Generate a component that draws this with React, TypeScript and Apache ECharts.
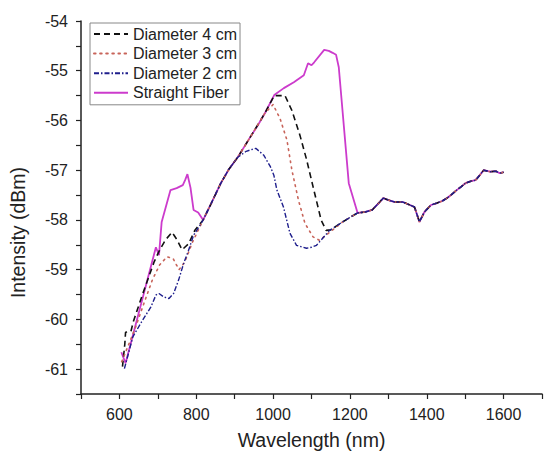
import React, { useEffect, useRef } from "react";
import * as echarts from "echarts";

// Shared segments (all curves coincide here)
const sharedRise: [number, number][] = [
  [818, -58.0], [840, -57.65], [864, -57.26], [885, -56.98], [908, -56.74],
];
const sharedJoin: [number, number][] = [
  [1181, -58.04], [1200, -57.95],
];
const sharedTail: [number, number][] = [
  [1220, -57.86], [1240, -57.84], [1258, -57.8], [1275, -57.66], [1287, -57.56],
  [1300, -57.6], [1317, -57.64], [1338, -57.64], [1356, -57.7], [1368, -57.74],
  [1375, -57.9], [1381, -58.04], [1394, -57.84], [1411, -57.7], [1427, -57.66],
  [1440, -57.62], [1453, -57.56], [1463, -57.5], [1478, -57.4], [1490, -57.33],
  [1501, -57.26], [1515, -57.22], [1527, -57.2], [1538, -57.1], [1548, -57.0],
  [1565, -57.03], [1580, -57.02], [1590, -57.06], [1600, -57.04],
];

const straightStart: [number, number][] = [
  [605, -60.66], [616, -60.88], [695, -58.55], [703, -58.71], [710, -58.04],
  [733, -57.4], [749, -57.36], [765, -57.3], [771, -57.2], [777, -57.08],
  [785, -57.35], [793, -57.8], [805, -57.85],
];
const straightPeak: [number, number][] = [
  [941, -56.33], [960, -56.1], [979, -55.85], [1003, -55.49], [1028, -55.35],
  [1054, -55.23], [1080, -55.09], [1091, -54.85], [1100, -54.89], [1107, -54.83],
  [1133, -54.58], [1145, -54.6], [1155, -54.64], [1164, -54.68], [1171, -54.93],
  [1197, -57.26],
];

const d4Start: [number, number][] = [
  [608, -60.95], [614, -60.5], [616, -60.26], [630, -60.24], [636, -60.05],
  [660, -59.5], [690, -58.85], [705, -58.6], [720, -58.4], [737, -58.25],
  [750, -58.4], [763, -58.6], [780, -58.48], [797, -58.2],
];
const d4Peak: [number, number][] = [
  [941, -56.33], [979, -55.85], [1003, -55.5], [1031, -55.5], [1049, -55.8],
  [1070, -56.3], [1087, -56.78], [1104, -57.33], [1125, -58.0], [1138, -58.21],
  [1150, -58.2],
];

const d3Start: [number, number][] = [
  [606, -60.85], [640, -60.2], [665, -59.65], [686, -59.2], [705, -58.9],
  [724, -58.74], [740, -58.78], [755, -59.0], [770, -58.85], [790, -58.45],
];
const d3Peak: [number, number][] = [
  [941, -56.33], [979, -55.85], [1000, -55.68], [1018, -55.96], [1036, -56.39],
  [1049, -57.0], [1066, -57.6], [1083, -58.07], [1104, -58.34], [1121, -58.41],
  [1147, -58.25],
];

const d2Start: [number, number][] = [
  [613, -60.99], [635, -60.35], [660, -60.02], [682, -59.75], [695, -59.51],
  [703, -59.48], [716, -59.55], [729, -59.58], [741, -59.48], [754, -59.21],
  [767, -58.88], [780, -58.61], [793, -58.31],
];
const d2Peak: [number, number][] = [
  [930, -56.62], [955, -56.56], [976, -56.7], [993, -56.93], [1002, -57.1],
  [1010, -57.4], [1027, -57.74], [1044, -58.27], [1061, -58.51], [1087, -58.57],
  [1100, -58.55], [1113, -58.51], [1147, -58.21],
];

const seriesNames = ["Diameter 4 cm", "Diameter 3 cm", "Diameter 2 cm", "Straight Fiber"];

const straightData = [...straightStart, ...sharedRise, ...straightPeak, ...sharedTail];
const d4Data = [...d4Start, ...sharedRise, ...d4Peak, ...sharedJoin, ...sharedTail];
const d3Data = [...d3Start, ...sharedRise, ...d3Peak, ...sharedJoin, ...sharedTail];
const d2Data = [...d2Start, ...sharedRise, ...d2Peak, ...sharedJoin, ...sharedTail];

const FONT = "'Liberation Sans', Arial, sans-serif";

export default function App() {
  const ref = useRef<HTMLDivElement>(null);
  useEffect(() => {
    document.body.style.margin = "0";
    if (!ref.current) return;
    const chart = echarts.init(ref.current, undefined, { renderer: "svg" });
    chart.setOption({
      animation: false,
      backgroundColor: "#fff",
      textStyle: { fontFamily: FONT },
      grid: { left: 81, top: 21, width: 469, height: 375, containLabel: false },
      legend: {
        data: seriesNames,
        orient: "vertical",
        left: 90,
        top: 23,
        itemWidth: 34,
        itemHeight: 14,
        itemGap: 3.6,
        padding: [3, 3, 4, 3],
        borderColor: "#888",
        borderWidth: 1,
        itemStyle: { opacity: 0 },
        textStyle: { fontSize: 16, color: "#222", fontFamily: FONT },
      },
      xAxis: {
        type: "value",
        min: 500,
        max: 1700,
        interval: 100,
        name: "Wavelength (nm)",
        nameLocation: "middle",
        nameGap: 36,
        nameTextStyle: { fontSize: 19.5, color: "#222", fontFamily: FONT },
        axisLine: { lineStyle: { color: "#222", width: 1.5 } },
        axisTick: { inside: false, length: 5, lineStyle: { color: "#222", width: 1.2 } },
        axisLabel: {
          fontSize: 16,
          color: "#222",
          margin: 12,
          formatter: (v: number) => (v % 200 === 0 ? String(v) : ""),
        },
        splitLine: { show: false },
      },
      yAxis: {
        type: "value",
        min: -61.5,
        max: -54,
        interval: 0.5,
        name: "Intensity (dBm)",
        nameLocation: "middle",
        nameGap: 53,
        nameTextStyle: { fontSize: 19.5, color: "#222", fontFamily: FONT, padding: [0, 50, 0, 0] },
        axisLine: { show: true, lineStyle: { color: "#222", width: 1.5 } },
        axisTick: { show: true, inside: false, length: 5, lineStyle: { color: "#222", width: 1.2 } },
        axisLabel: {
          fontSize: 16,
          color: "#222",
          margin: 13,
          formatter: (v: number) => (Number.isInteger(v) ? String(v) : ""),
        },
        splitLine: { show: false },
      },
      series: [
        {
          name: "Straight Fiber",
          type: "line",
          data: straightData,
          showSymbol: false,
          symbol: "none",
          z: 2,
          lineStyle: { color: "#CC3BCC", width: 1.8, type: "solid" },
          itemStyle: { color: "#CC3BCC" },
        },
        {
          name: "Diameter 4 cm",
          type: "line",
          data: d4Data,
          showSymbol: false,
          symbol: "none",
          z: 3,
          lineStyle: { color: "#111", width: 1.6, type: [6, 4] },
          itemStyle: { color: "#111" },
        },
        {
          name: "Diameter 3 cm",
          type: "line",
          data: d3Data,
          showSymbol: false,
          symbol: "none",
          z: 3,
          lineStyle: { color: "#C8645A", width: 1.6, type: [1.6, 4.5], cap: "round" },
          itemStyle: { color: "#C8645A" },
        },
        {
          name: "Diameter 2 cm",
          type: "line",
          data: d2Data,
          showSymbol: false,
          symbol: "none",
          z: 4,
          lineStyle: { color: "#1E1E8C", width: 1.4, type: [5, 2, 1.5, 2] },
          itemStyle: { color: "#1E1E8C" },
        },
      ],
    });
    return () => chart.dispose();
  }, []);
  return <div ref={ref} style={{ width: 545, height: 455 }} />;
}
